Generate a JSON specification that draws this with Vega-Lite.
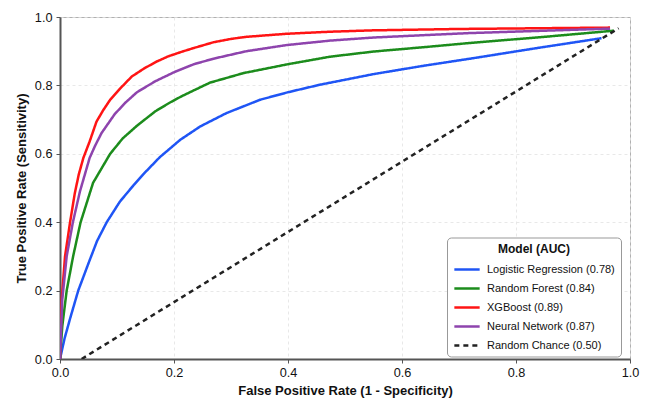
{
  "$schema": "https://vega.github.io/schema/vega-lite/v6.json",
  "width": 570,
  "height": 342,
  "autosize": "none",
  "padding": {"left": 60, "top": 17, "right": 16, "bottom": 43},
  "background": "white",
  "config": {
    "font": "Liberation Sans",
    "view": {"stroke": "#b0b0b0", "strokeWidth": 1},
    "axis": {
      "labelFont": "Liberation Sans",
      "titleFont": "Liberation Sans",
      "labelFontSize": 12.7,
      "labelColor": "#111",
      "titleFontSize": 13,
      "titleFontWeight": "bold",
      "titleColor": "#111",
      "domainColor": "#555",
      "domainWidth": 2,
      "tickColor": "#555",
      "tickSize": 4,
      "tickWidth": 1,
      "gridColor": "#e2e2e2",
      "gridDash": [3, 3],
      "gridWidth": 0.8
    },
    "legend": {
      "labelFont": "Liberation Sans",
      "titleFont": "Liberation Sans"
    }
  },
  "data": {
    "values": [
      {"model": "Logistic Regression (0.78)", "fpr": 0, "tpr": 0},
      {"model": "Logistic Regression (0.78)", "fpr": 0.008, "tpr": 0.06},
      {"model": "Logistic Regression (0.78)", "fpr": 0.018, "tpr": 0.12},
      {"model": "Logistic Regression (0.78)", "fpr": 0.032, "tpr": 0.2},
      {"model": "Logistic Regression (0.78)", "fpr": 0.05, "tpr": 0.28},
      {"model": "Logistic Regression (0.78)", "fpr": 0.065, "tpr": 0.345},
      {"model": "Logistic Regression (0.78)", "fpr": 0.082, "tpr": 0.4},
      {"model": "Logistic Regression (0.78)", "fpr": 0.105, "tpr": 0.46},
      {"model": "Logistic Regression (0.78)", "fpr": 0.13, "tpr": 0.51},
      {"model": "Logistic Regression (0.78)", "fpr": 0.146, "tpr": 0.54},
      {"model": "Logistic Regression (0.78)", "fpr": 0.175, "tpr": 0.59},
      {"model": "Logistic Regression (0.78)", "fpr": 0.211, "tpr": 0.641},
      {"model": "Logistic Regression (0.78)", "fpr": 0.246, "tpr": 0.68},
      {"model": "Logistic Regression (0.78)", "fpr": 0.292, "tpr": 0.719},
      {"model": "Logistic Regression (0.78)", "fpr": 0.351, "tpr": 0.758},
      {"model": "Logistic Regression (0.78)", "fpr": 0.4, "tpr": 0.78},
      {"model": "Logistic Regression (0.78)", "fpr": 0.456, "tpr": 0.802},
      {"model": "Logistic Regression (0.78)", "fpr": 0.55, "tpr": 0.833},
      {"model": "Logistic Regression (0.78)", "fpr": 0.64, "tpr": 0.858},
      {"model": "Logistic Regression (0.78)", "fpr": 0.719, "tpr": 0.878},
      {"model": "Logistic Regression (0.78)", "fpr": 0.84, "tpr": 0.91},
      {"model": "Logistic Regression (0.78)", "fpr": 0.95, "tpr": 0.938},
      {"model": "Random Forest (0.84)", "fpr": 0, "tpr": 0},
      {"model": "Random Forest (0.84)", "fpr": 0.004, "tpr": 0.096},
      {"model": "Random Forest (0.84)", "fpr": 0.0117, "tpr": 0.2},
      {"model": "Random Forest (0.84)", "fpr": 0.023, "tpr": 0.3},
      {"model": "Random Forest (0.84)", "fpr": 0.036, "tpr": 0.399},
      {"model": "Random Forest (0.84)", "fpr": 0.058, "tpr": 0.515},
      {"model": "Random Forest (0.84)", "fpr": 0.088, "tpr": 0.6},
      {"model": "Random Forest (0.84)", "fpr": 0.11, "tpr": 0.645},
      {"model": "Random Forest (0.84)", "fpr": 0.135, "tpr": 0.682},
      {"model": "Random Forest (0.84)", "fpr": 0.167, "tpr": 0.724},
      {"model": "Random Forest (0.84)", "fpr": 0.193, "tpr": 0.75},
      {"model": "Random Forest (0.84)", "fpr": 0.213, "tpr": 0.768},
      {"model": "Random Forest (0.84)", "fpr": 0.263, "tpr": 0.808},
      {"model": "Random Forest (0.84)", "fpr": 0.322, "tpr": 0.836},
      {"model": "Random Forest (0.84)", "fpr": 0.4, "tpr": 0.862},
      {"model": "Random Forest (0.84)", "fpr": 0.474, "tpr": 0.884},
      {"model": "Random Forest (0.84)", "fpr": 0.55, "tpr": 0.899},
      {"model": "Random Forest (0.84)", "fpr": 0.64, "tpr": 0.912},
      {"model": "Random Forest (0.84)", "fpr": 0.719, "tpr": 0.924},
      {"model": "Random Forest (0.84)", "fpr": 0.85, "tpr": 0.942},
      {"model": "Random Forest (0.84)", "fpr": 0.972, "tpr": 0.96},
      {"model": "XGBoost (0.89)", "fpr": 0, "tpr": 0},
      {"model": "XGBoost (0.89)", "fpr": 0.003, "tpr": 0.174},
      {"model": "XGBoost (0.89)", "fpr": 0.0088, "tpr": 0.3},
      {"model": "XGBoost (0.89)", "fpr": 0.0175, "tpr": 0.398},
      {"model": "XGBoost (0.89)", "fpr": 0.026, "tpr": 0.485},
      {"model": "XGBoost (0.89)", "fpr": 0.033, "tpr": 0.54},
      {"model": "XGBoost (0.89)", "fpr": 0.041, "tpr": 0.588},
      {"model": "XGBoost (0.89)", "fpr": 0.052, "tpr": 0.636},
      {"model": "XGBoost (0.89)", "fpr": 0.064, "tpr": 0.694},
      {"model": "XGBoost (0.89)", "fpr": 0.076, "tpr": 0.728},
      {"model": "XGBoost (0.89)", "fpr": 0.088, "tpr": 0.758},
      {"model": "XGBoost (0.89)", "fpr": 0.105, "tpr": 0.79},
      {"model": "XGBoost (0.89)", "fpr": 0.126, "tpr": 0.826},
      {"model": "XGBoost (0.89)", "fpr": 0.148, "tpr": 0.85},
      {"model": "XGBoost (0.89)", "fpr": 0.17, "tpr": 0.87},
      {"model": "XGBoost (0.89)", "fpr": 0.19, "tpr": 0.885},
      {"model": "XGBoost (0.89)", "fpr": 0.213, "tpr": 0.898},
      {"model": "XGBoost (0.89)", "fpr": 0.234, "tpr": 0.909},
      {"model": "XGBoost (0.89)", "fpr": 0.269, "tpr": 0.926},
      {"model": "XGBoost (0.89)", "fpr": 0.3, "tpr": 0.936},
      {"model": "XGBoost (0.89)", "fpr": 0.327, "tpr": 0.942},
      {"model": "XGBoost (0.89)", "fpr": 0.398, "tpr": 0.951},
      {"model": "XGBoost (0.89)", "fpr": 0.474, "tpr": 0.957},
      {"model": "XGBoost (0.89)", "fpr": 0.55, "tpr": 0.961},
      {"model": "XGBoost (0.89)", "fpr": 0.7, "tpr": 0.965},
      {"model": "XGBoost (0.89)", "fpr": 0.965, "tpr": 0.969},
      {"model": "Neural Network (0.87)", "fpr": 0, "tpr": 0},
      {"model": "Neural Network (0.87)", "fpr": 0.004, "tpr": 0.174},
      {"model": "Neural Network (0.87)", "fpr": 0.0117, "tpr": 0.3},
      {"model": "Neural Network (0.87)", "fpr": 0.0225, "tpr": 0.399},
      {"model": "Neural Network (0.87)", "fpr": 0.035, "tpr": 0.49},
      {"model": "Neural Network (0.87)", "fpr": 0.052, "tpr": 0.588},
      {"model": "Neural Network (0.87)", "fpr": 0.062, "tpr": 0.625},
      {"model": "Neural Network (0.87)", "fpr": 0.073, "tpr": 0.661},
      {"model": "Neural Network (0.87)", "fpr": 0.096, "tpr": 0.716},
      {"model": "Neural Network (0.87)", "fpr": 0.115, "tpr": 0.75},
      {"model": "Neural Network (0.87)", "fpr": 0.135, "tpr": 0.78},
      {"model": "Neural Network (0.87)", "fpr": 0.167, "tpr": 0.812},
      {"model": "Neural Network (0.87)", "fpr": 0.202, "tpr": 0.84},
      {"model": "Neural Network (0.87)", "fpr": 0.235, "tpr": 0.862},
      {"model": "Neural Network (0.87)", "fpr": 0.269, "tpr": 0.878},
      {"model": "Neural Network (0.87)", "fpr": 0.327, "tpr": 0.9},
      {"model": "Neural Network (0.87)", "fpr": 0.398, "tpr": 0.918},
      {"model": "Neural Network (0.87)", "fpr": 0.474, "tpr": 0.931},
      {"model": "Neural Network (0.87)", "fpr": 0.55, "tpr": 0.94},
      {"model": "Neural Network (0.87)", "fpr": 0.64, "tpr": 0.947},
      {"model": "Neural Network (0.87)", "fpr": 0.719, "tpr": 0.953},
      {"model": "Neural Network (0.87)", "fpr": 0.965, "tpr": 0.966},
      {"model": "Random Chance (0.50)", "fpr": 0.038, "tpr": 0},
      {"model": "Random Chance (0.50)", "fpr": 0.98, "tpr": 0.967}
    ]
  },
  "mark": {"type": "line", "clip": true},
  "encoding": {
    "x": {
      "field": "fpr",
      "type": "quantitative",
      "scale": {"domain": [0, 1], "nice": false, "zero": false},
      "axis": {
        "title": "False Positive Rate (1 - Specificity)",
        "values": [0, 0.2, 0.4, 0.6, 0.8, 1],
        "format": ".1f",
        "labelPadding": 3,
        "titlePadding": 6,
        "labelFlush": false
      }
    },
    "y": {
      "field": "tpr",
      "type": "quantitative",
      "scale": {"domain": [0, 1], "nice": false, "zero": false},
      "axis": {
        "title": "True Positive Rate (Sensitivity)",
        "values": [0, 0.2, 0.4, 0.6, 0.8, 1],
        "format": ".1f",
        "labelPadding": 4,
        "titlePadding": 6,
        "labelFlush": false
      }
    },
    "color": {
      "field": "model",
      "type": "nominal",
      "scale": {
        "domain": ["Logistic Regression (0.78)", "Random Forest (0.84)", "XGBoost (0.89)", "Neural Network (0.87)", "Random Chance (0.50)"],
        "range": ["#1f55f5", "#1c8c1c", "#ff1414", "#8e44ad", "#222222"]
      },
      "legend": {
        "title": "Model (AUC)",
        "orient": "none",
        "legendX": 387,
        "legendY": 220.5,
        "titleFontSize": 12,
        "titleFontWeight": "bold",
        "titleColor": "#111",
        "titleAnchor": "middle",
        "titlePadding": 0,
        "labelFontSize": 11,
        "labelColor": "#111",
        "labelOffset": 6,
        "symbolType": "stroke",
        "symbolSize": 640,
        "symbolStrokeWidth": 2.5,
        "rowPadding": -12,
        "padding": 6,
        "fillColor": "white",
        "strokeColor": "#999",
        "cornerRadius": 4
      }
    },
    "strokeDash": {
      "field": "model",
      "type": "nominal",
      "scale": {
        "domain": ["Logistic Regression (0.78)", "Random Forest (0.84)", "XGBoost (0.89)", "Neural Network (0.87)", "Random Chance (0.50)"],
        "range": [[1, 0], [1, 0], [1, 0], [1, 0], [5, 4]]
      },
      "legend": null
    },
    "strokeWidth": {
      "field": "model",
      "type": "nominal",
      "scale": {
        "domain": ["Logistic Regression (0.78)", "Random Forest (0.84)", "XGBoost (0.89)", "Neural Network (0.87)", "Random Chance (0.50)"],
        "range": [2.5, 2.5, 2.5, 2.5, 1.3]
      },
      "legend": null
    }
  }
}
